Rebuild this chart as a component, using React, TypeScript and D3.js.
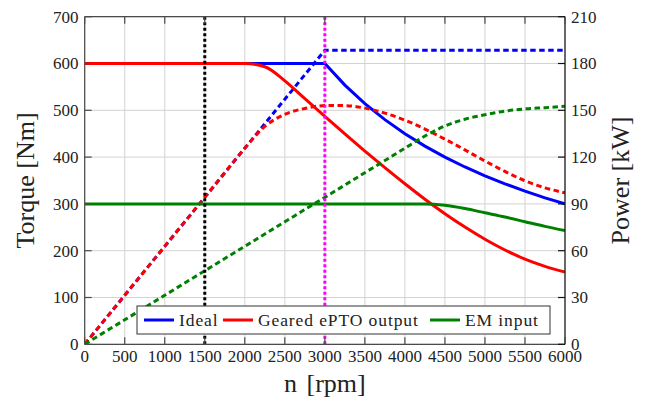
import React from "react";
import * as d3 from "d3";

const rpm = [0, 250, 500, 750, 1000, 1250, 1500, 1750, 2000, 2250, 2500, 2750, 3000, 3250, 3500, 3750, 4000, 4250, 4500, 4750, 5000, 5250, 5500, 5750, 6000];
const idealTorque = [600, 600, 600, 600, 600, 600, 600, 600, 600, 600, 600, 600, 600, 553.8, 514.3, 480, 450, 423.5, 400, 378.9, 360, 342.9, 327.3, 313, 300];
const idealPower = [0, 15.7, 31.4, 47.1, 62.8, 78.5, 94.2, 110, 125.7, 141.4, 157.1, 172.8, 188.5, 188.5, 188.5, 188.5, 188.5, 188.5, 188.5, 188.5, 188.5, 188.5, 188.5, 188.5, 188.5];
const gearedTorque = [600, 600, 600, 600, 600, 600, 600, 600, 600, 593, 563, 525, 487, 449.5, 413, 377.5, 343, 310, 279, 250.5, 224.5, 201.5, 182, 166.5, 154.5];
const gearedPower = [0, 15.7, 31.4, 47.1, 62.8, 78.5, 94.2, 110, 125.7, 139.7, 147.4, 151.2, 153.0, 153.0, 151.4, 148.2, 143.7, 138.0, 131.5, 124.6, 117.5, 110.8, 104.8, 100.3, 97.1];
const emTorque = [300, 300, 300, 300, 300, 300, 300, 300, 300, 300, 300, 300, 300, 300, 300, 300, 300, 300, 297, 290, 281, 272, 262, 252, 243];
const emPower = [0, 7.9, 15.7, 23.6, 31.4, 39.3, 47.1, 55.0, 62.8, 70.7, 78.5, 86.4, 94.2, 102.1, 110.0, 117.8, 125.7, 133.5, 139.9, 144.3, 147.1, 149.5, 150.9, 151.7, 152.6];
const markerRpm = [1500, 3000];
const xTicks = [0, 500, 1000, 1500, 2000, 2500, 3000, 3500, 4000, 4500, 5000, 5500, 6000];
const torqueTicks = [0, 100, 200, 300, 400, 500, 600, 700];
const powerTicks = [0, 30, 60, 90, 120, 150, 180, 210];
const legendLabels = ["Ideal", "Geared ePTO output", "EM input"];

const W = 649, H = 401;
const L = 84.7, R = 565, T = 16.7, B = 344.3;
const FONT = "Liberation Serif, DejaVu Serif, serif";

export default function App() {
  const x = d3.scaleLinear().domain([0, 6000]).range([L, R]);
  const yT = d3.scaleLinear().domain([0, 700]).range([B, T]);
  const yP = d3.scaleLinear().domain([0, 210]).range([B, T]);

  const lineT = (vals: number[], curve: any) =>
    d3.line<number>().x((_, i) => x(rpm[i])).y((v) => yT(v)).curve(curve)(vals) as string;
  const lineP = (vals: number[], curve: any) =>
    d3.line<number>().x((_, i) => x(rpm[i])).y((v) => yP(v)).curve(curve)(vals) as string;

  const blue = "#0000ff", red = "#ff0000", green = "#008000";
  const dash = "5.5,3.5";
  const frame = "#4a4a4a";
  const tickLen = 7;
  const txt = { fontFamily: FONT, fill: "#222" } as React.CSSProperties;

  const legendItems = [
    { label: legendLabels[0], color: blue, x1: 144, tx: 179 },
    { label: legendLabels[1], color: red, x1: 223, tx: 258 },
    { label: legendLabels[2], color: green, x1: 430, tx: 465 },
  ];

  return (
    <svg width={W} height={H} style={{ position: "absolute", left: 0, top: 0, background: "#fff" }}>
      <rect x={0} y={0} width={W} height={H} fill="#fff" />
      <defs>
        <clipPath id="plot">
          <rect x={L} y={T} width={R - L} height={B - T} />
        </clipPath>
      </defs>
      {xTicks.map((t) => (
        <line key={"gx" + t} x1={x(t)} x2={x(t)} y1={T} y2={B} stroke="#d3d3d3" strokeWidth={1} />
      ))}
      {torqueTicks.map((t) => (
        <line key={"gy" + t} x1={L} x2={R} y1={yT(t)} y2={yT(t)} stroke="#d3d3d3" strokeWidth={1} />
      ))}
      <g clipPath="url(#plot)" fill="none" strokeWidth={3}>
        <path d={lineT(idealTorque, d3.curveLinear)} stroke={blue} />
        <path d={lineP(idealPower, d3.curveLinear)} stroke={blue} strokeDasharray={dash} />
        <path d={lineT(gearedTorque, d3.curveMonotoneX)} stroke={red} />
        <path d={lineP(gearedPower, d3.curveMonotoneX)} stroke={red} strokeDasharray={dash} />
        <path d={lineT(emTorque, d3.curveMonotoneX)} stroke={green} />
        <path d={lineP(emPower, d3.curveMonotoneX)} stroke={green} strokeDasharray={dash} />
        {markerRpm.map((m, i) => (
          <line key={"m" + m} x1={x(m)} x2={x(m)} y1={T} y2={B} stroke={i === 0 ? "#000" : "#ff00ff"} strokeWidth={3} strokeDasharray="3,2.5" />
        ))}
      </g>
      <line x1={L} x2={R} y1={T} y2={T} stroke={frame} strokeWidth={1.2} />
      <line x1={L} x2={R} y1={B} y2={B} stroke={frame} strokeWidth={1.2} />
      <line x1={L} x2={L} y1={T} y2={B} stroke={frame} strokeWidth={1.2} />
      <line x1={R} x2={R} y1={T} y2={B} stroke="#111" strokeWidth={1.2} />
      {xTicks.map((t) => (
        <g key={"xt" + t}>
          <line x1={x(t)} x2={x(t)} y1={B} y2={B - tickLen} stroke={frame} strokeWidth={1.2} />
          <line x1={x(t)} x2={x(t)} y1={T} y2={T + tickLen} stroke={frame} strokeWidth={1.2} />
          <text x={x(t)} y={362} textAnchor="middle" fontSize={17} style={txt}>{t}</text>
        </g>
      ))}
      {torqueTicks.map((t) => (
        <g key={"yt" + t}>
          <line x1={L} x2={L + tickLen} y1={yT(t)} y2={yT(t)} stroke={frame} strokeWidth={1.2} />
          <text x={78.5} y={yT(t) + 5.8} textAnchor="end" fontSize={17} style={txt}>{t}</text>
        </g>
      ))}
      {powerTicks.map((t) => (
        <g key={"pt" + t}>
          <line x1={R} x2={R - tickLen} y1={yP(t)} y2={yP(t)} stroke="#111" strokeWidth={1.2} />
          <text x={571} y={yP(t) + 5.8} textAnchor="start" fontSize={17} style={txt}>{t}</text>
        </g>
      ))}
      <text transform={`translate(34,${(T + B) / 2}) rotate(-90)`} textAnchor="middle" fontSize={26} style={txt}>Torque [Nm]</text>
      <text transform={`translate(629,${(T + B) / 2}) rotate(-90)`} textAnchor="middle" fontSize={26} style={txt}>Power [kW]</text>
      <text x={(L + R) / 2} y={392} textAnchor="middle" fontSize={26} style={{ ...txt, wordSpacing: 3 }}>n [rpm]</text>
      <rect x={137} y={306} width={413} height={28} fill="#fff" stroke="#333" strokeWidth={1} />
      {legendItems.map((it) => (
        <g key={it.label}>
          <line x1={it.x1} x2={it.x1 + 30} y1={320} y2={320} stroke={it.color} strokeWidth={3} />
          <text x={it.tx} y={325.5} fontSize={17.5} style={{ ...txt, letterSpacing: 0.9 }}>{it.label}</text>
        </g>
      ))}
    </svg>
  );
}
